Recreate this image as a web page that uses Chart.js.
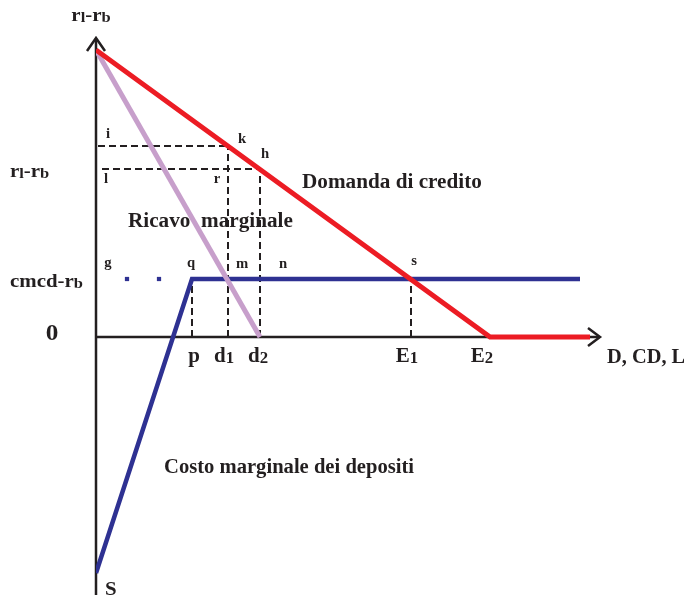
<!DOCTYPE html>
<html>
<head>
<meta charset="utf-8">
<script src="https://cdn.jsdelivr.net/npm/chart.js@4/dist/chart.umd.min.js"></script>
<style>
  html, body { margin: 0; padding: 0; background: #fff; }
  #wrap { width: 684px; height: 599px; position: relative; }
</style>
</head>
<body>
<div id="wrap"><canvas id="chart"></canvas></div>
<script>
// curves (x = quantity, y = rate spread)
var demandX = [0, 394, 494];
var demandY = [287, 0, 0];
var revenueX = [0, 164];
var revenueY = [287, 0];
var costX = [0, 96, 484];
var costY = [-236, 58, 58];
var dotsX = [31, 63];
var dotsY = [58, 58];

// dashed guides
var levelY = [191, 168];       // i..k , l..h
var levelFrom = [2, 6];
var levelTo = [132, 164];
var dropX = [132, 164, 96, 315]; // d1, d2, p, E1
var dropTop = [191, 168, 58, 58];

// axis labels
var yTickValues = [168, 58, 0];
var yTickLabels = [[['r', 0], ['l', 1], ['-r', 0], ['b', 1]], [['cmcd-r', 0], ['b', 1]], [['0', 0]]];
var xTickValues = [96, 132, 164, 315, 394];
var xTickLabels = [[['p', 0]], [['d', 0], ['1', 1]], [['d', 0], ['2', 1]], [['E', 0], ['1', 1]], [['E', 0], ['2', 1]]];

// point letters
var letterText = ['i', 'k', 'h', 'l', 'r', 'g', 'q', 'm', 'n', 's'];
var letterX = [12, 146, 169, 10, 121, 12, 95, 146, 187, 318];
var letterY = [199, 194, 179, 154, 154, 70, 70, 69, 69, 72];

function pts(xs, ys) {
  return xs.map(function (x, i) { return { x: x, y: ys[i] }; });
}

var guideData = [];
levelY.forEach(function (y, i) {
  guideData.push({ x: levelFrom[i], y: y }, { x: levelTo[i], y: y }, { x: null, y: null });
});
dropX.forEach(function (x, i) {
  guideData.push({ x: x, y: 0 }, { x: x, y: dropTop[i] }, { x: null, y: null });
});

var FONT = '"Liberation Serif", "Times New Roman", serif';
var INK = '#231f20';

function drawRich(ctx, parts, x, y, size, align, stretch) {
  stretch = stretch || 1;
  var big = 'bold ' + size + 'px ' + FONT;
  var small = 'bold ' + Math.round(size * 0.78) + 'px ' + FONT;
  var w = 0;
  parts.forEach(function (p) { ctx.font = p[1] ? small : big; w += ctx.measureText(p[0]).width; });
  w *= stretch;
  var left = align === 'center' ? x - w / 2 : (align === 'right' ? x - w : x);
  ctx.save();
  ctx.translate(left, y);
  ctx.scale(stretch, 1);
  ctx.textAlign = 'left';
  ctx.textBaseline = 'alphabetic';
  var cx = 0;
  parts.forEach(function (p) {
    ctx.font = p[1] ? small : big;
    ctx.fillText(p[0], cx, p[1] ? 1 : 0);
    cx += ctx.measureText(p[0]).width;
  });
  ctx.restore();
}

var diagram = {
  id: 'diagram',
  beforeDatasetsDraw: function (chart) {
    var ctx = chart.ctx, xs = chart.scales.x, ys = chart.scales.y;
    var ox = xs.getPixelForValue(0), oy = ys.getPixelForValue(0);
    var top = ys.getPixelForValue(ys.max), bottom = ys.getPixelForValue(ys.min);
    var right = xs.getPixelForValue(xs.max);
    ctx.save();
    ctx.strokeStyle = INK;
    ctx.lineWidth = 2.5;
    ctx.beginPath();
    ctx.moveTo(ox, bottom); ctx.lineTo(ox, top + 1);
    ctx.moveTo(ox, oy); ctx.lineTo(right - 1, oy);
    ctx.stroke();
    ctx.beginPath();
    ctx.moveTo(ox - 9, top + 13); ctx.lineTo(ox, top); ctx.lineTo(ox + 9, top + 13);
    ctx.moveTo(right - 12, oy - 9); ctx.lineTo(right, oy); ctx.lineTo(right - 12, oy + 9);
    ctx.stroke();
    ctx.restore();
  },
  afterDatasetsDraw: function (chart) {
    var ctx = chart.ctx, xs = chart.scales.x, ys = chart.scales.y;
    var ox = xs.getPixelForValue(0), oy = ys.getPixelForValue(0);
    ctx.save();
    ctx.fillStyle = INK;
    // y ticks
    yTickValues.forEach(function (v, i) {
      if (v === 0) {
        drawRich(ctx, yTickLabels[i], 52, ys.getPixelForValue(v) + 3, 24, 'center', 1.05);
      } else {
        drawRich(ctx, yTickLabels[i], 10, ys.getPixelForValue(v) + 8, 19, 'left', 1.1);
      }
    });
    // x ticks
    var xShift = [2, -4, -2, -4, -8];
    xTickValues.forEach(function (v, i) {
      drawRich(ctx, xTickLabels[i], xs.getPixelForValue(v) + xShift[i], oy + 25, 20, 'center', 1.05);
    });
    drawRich(ctx, [['D, CD, L', 0]], xs.getPixelForValue(xs.max) + 7, oy + 26, 20, 'left', 1.02);
    // axis titles
    drawRich(ctx, [['r', 0], ['l', 1], ['-r', 0], ['b', 1]], ox - 5, 21, 19, 'center', 1.1);
    drawRich(ctx, [['S', 0]], ox + 9, ys.getPixelForValue(ys.min), 19, 'left', 1.1);
    // letters
    letterText.forEach(function (t, i) {
      drawRich(ctx, [[t, 0]], xs.getPixelForValue(letterX[i]), ys.getPixelForValue(letterY[i]), 14, 'center', 1.05);
    });
    // curve names
    drawRich(ctx, [['Domanda di credito', 0]], xs.getPixelForValue(206), ys.getPixelForValue(149), 20, 'left', 1.06);
    drawRich(ctx, [['Ricavo  marginale', 0]], xs.getPixelForValue(32), ys.getPixelForValue(110), 20, 'left', 1.06);
    drawRich(ctx, [['Costo marginale dei depositi', 0]], xs.getPixelForValue(68), ys.getPixelForValue(-136), 20, 'left', 1.03);
    ctx.restore();
  }
};

new Chart(document.getElementById('chart'), {
  type: 'scatter',
  data: {
    datasets: [
      { label: 'Ricavo marginale', data: pts(revenueX, revenueY), showLine: true, borderColor: '#c79fcb', borderWidth: 5, pointRadius: 0, order: 1 },
      { label: 'Domanda di credito', data: pts(demandX, demandY), showLine: true, borderColor: '#ec1c24', borderWidth: 5, pointRadius: 0, order: 0 },
      { label: 'Costo marginale dei depositi', data: pts(costX, costY), showLine: true, borderColor: '#2e3192', borderWidth: 4.5, pointRadius: 0, order: 2 },
      { label: 'g', data: pts(dotsX, dotsY), showLine: false, pointStyle: 'rect', pointRadius: 3, backgroundColor: '#2e3192', borderWidth: 0, order: 2 },
      { label: 'guide', data: guideData, showLine: true, spanGaps: false, borderColor: INK, borderWidth: 2, borderDash: [7, 4], pointRadius: 0, order: 3 }
    ]
  },
  options: {
    responsive: true,
    maintainAspectRatio: false,
    animation: false,
    events: [],
    layout: { padding: { left: 96, right: 84, top: 38, bottom: 4 } },
    scales: {
      x: { type: 'linear', min: 0, max: 504, display: false },
      y: { type: 'linear', min: -258, max: 299, display: false }
    },
    plugins: {
      legend: { display: false },
      tooltip: { enabled: false }
    }
  },
  plugins: [diagram]
});
</script>
</body>
</html>
